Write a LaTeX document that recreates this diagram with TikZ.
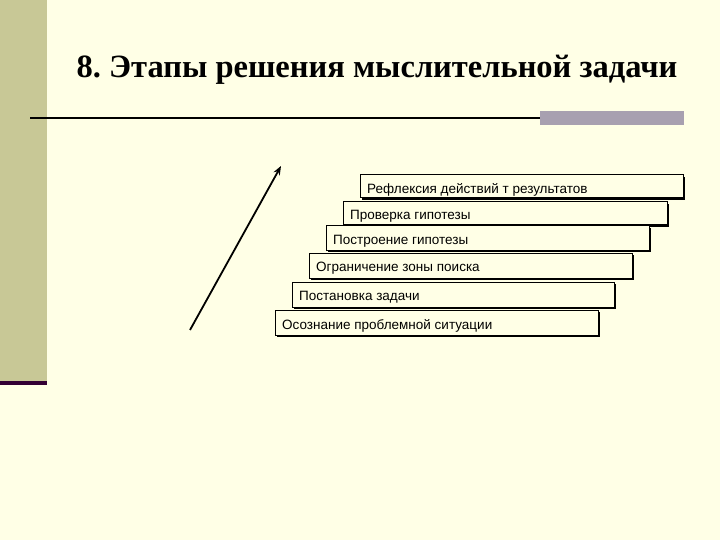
\documentclass[tikz,border=0pt]{standalone}
\usepackage{fontspec}
\setmainfont{Liberation Serif}
\newfontfamily\boxfont{Liberation Sans}
\definecolor{bg}{HTML}{FFFFE6}
\definecolor{khaki}{HTML}{C8C896}
\definecolor{deep}{HTML}{330033}
\definecolor{barg}{HTML}{A8A0B0}
\usetikzlibrary{arrows.meta}
\begin{document}
\begin{tikzpicture}[x=1pt,y=-1pt,
  lbl/.style={anchor=west,font=\boxfont\fontsize{13.5}{15}\selectfont,inner sep=0pt}]
\fill[bg] (0,0) rectangle (720,540);
\useasboundingbox (0,0) rectangle (720,540);
\fill[khaki] (0,0) rectangle (47,382);
\fill[deep] (0,381) rectangle (47,385);
\node (title) at (377,70) {\bfseries\fontsize{32.5}{36}\selectfont 8.\kern 0.25em Этапы решения мыслительной задачи};
\coordinate (l1) at (30,118);
\coordinate (l2) at (540,118);
\draw[line width=1.5pt] (l1) -- (l2);
\fill[barg] (540,111) rectangle (684,125);
\foreach \n/\x/\y/\r/\b/\t in {
 a/360/175/683/198/{Рефлексия действий т результатов},
 b/343/202/667/225/{Проверка гипотезы},
 c/326/226/649/250/{Построение гипотезы},
 d/309/253/632/278/{Ограничение зоны поиска},
 e/292/282/614/307/{Постановка задачи},
 f/275/310/598/335/{Осознание проблемной ситуации}}{
  \fill[black] (\x+2,\y+2) rectangle (\r+2,\b+2);
  \draw[line width=1pt,fill=bg] (\x,\y) rectangle (\r,\b);
  \node[lbl] (\n) at (\x+7,{(\y+\b)/2+3}) {\t};
}
\coordinate (s) at (190,330);
\coordinate (e) at (281,166);
\draw[line width=1.8pt,-{Stealth[length=9pt,width=7pt]}] (s) -- (e);
\end{tikzpicture}
\end{document}
